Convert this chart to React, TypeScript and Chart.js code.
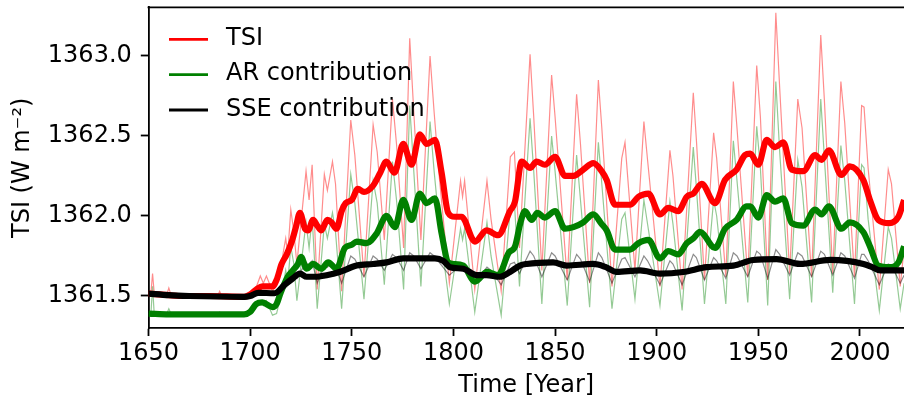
import React, { useEffect, useRef } from "react";
import { Chart, registerables } from "chart.js";

Chart.register(...registerables);

// ---------- DATA ----------
// Annual (thin) curves, sampled at cycle extrema / shoulders
const THIN_YEARS = [
  1650, 1651.2, 1652, 1652.8, 1659, 1660, 1661, 1684, 1685, 1686, 1699,
  1702, 1705, 1706.5, 1708, 1711, 1713, 1716, 1717.5, 1718.5, 1720, 1721.5, 1723,
  1727.5, 1729, 1730.5, 1733, 1736.5, 1738, 1740.5, 1742, 1745, 1749.5, 1751.5, 1756,
  1760.5, 1762.5, 1766, 1770, 1772, 1775.5, 1778.5, 1780.5, 1784, 1788.5, 1790.5, 1793,
  1798, 1803.5, 1804.5, 1805.5, 1810.5, 1816.5, 1818.5, 1823.5, 1828, 1830, 1832.5,
  1837.7, 1839.5, 1843.5, 1848.3, 1850, 1856, 1860.6, 1862.5, 1867, 1871.3, 1873, 1878,
  1882.8, 1884.4, 1889.3, 1893.7, 1895.5, 1901.6, 1906.5, 1908, 1912.5, 1918, 1919.5,
  1923.5, 1928, 1929.5, 1934, 1937.7, 1939.5, 1944.8, 1949.2, 1951, 1954.6, 1958.6,
  1960.5, 1965.4, 1969.4, 1971.5, 1976.2, 1980.7, 1982.5, 1986.6, 1990.6, 1992.5,
  1997.3, 2000.8, 2002, 2004, 2009.5, 2013.9, 2015.5, 2019.8, 2021.7,
];
const TSI_ANNUAL = [
  1361.52, 1361.52, 1361.64, 1361.52, 1361.51, 1361.55, 1361.51, 1361.5, 1361.53, 1361.5, 1361.495,
  1361.52, 1361.625, 1361.58, 1361.625, 1361.53, 1361.57, 1361.75, 1361.86, 1361.76, 1362.04, 1361.9, 1361.7,
  1362.28, 1362.1, 1362.32, 1361.54, 1362.26, 1362.16, 1362.34, 1362.2, 1361.53, 1362.6, 1362.38, 1361.62,
  1362.57, 1362.4, 1361.85, 1362.73, 1362.45, 1361.8, 1363.11, 1362.65, 1361.85, 1363.0, 1362.65, 1362.25,
  1361.58, 1362.22, 1362.12, 1362.22, 1361.54, 1362.22, 1361.98, 1361.53, 1362.37, 1362.4, 1361.8,
  1363.01, 1362.62, 1361.66, 1362.88, 1362.62, 1361.6, 1362.76, 1362.45, 1361.58, 1362.85, 1362.55, 1361.56,
  1362.36, 1362.46, 1361.66, 1362.59, 1362.35, 1361.56, 1362.41, 1362.25, 1361.54, 1362.77, 1362.48,
  1361.6, 1362.52, 1362.36, 1361.62, 1362.84, 1362.55, 1361.62, 1362.94, 1362.62, 1361.6, 1363.27,
  1362.8, 1361.64, 1362.73, 1362.55, 1361.62, 1363.13, 1362.72, 1361.64, 1362.84, 1362.58,
  1361.62, 1362.69, 1362.68, 1362.3, 1361.54, 1362.29, 1362.2, 1361.56, 1361.8,
];
const AR_ANNUAL = [
  1361.39, 1361.39, 1361.56, 1361.39, 1361.39, 1361.42, 1361.39, 1361.39, 1361.4, 1361.385, 1361.385,
  1361.41, 1361.47, 1361.44, 1361.47, 1361.38, 1361.39, 1361.55, 1361.66, 1361.58, 1361.81, 1361.7, 1361.47,
  1361.96, 1361.8, 1361.99, 1361.42, 1361.95, 1361.86, 1362.02, 1361.9, 1361.42, 1362.26, 1362.08, 1361.48,
  1362.22, 1362.08, 1361.57, 1362.34, 1362.1, 1361.54, 1362.69, 1362.28, 1361.56, 1362.59, 1362.28, 1361.95,
  1361.45, 1361.92, 1361.85, 1361.92, 1361.4, 1361.96, 1361.75, 1361.38, 1362.05, 1362.08, 1361.56,
  1362.61, 1362.28, 1361.45, 1362.5, 1362.28, 1361.44, 1362.38, 1362.1, 1361.43, 1362.46, 1362.2, 1361.42,
  1361.98, 1362.02, 1361.48, 1362.1, 1361.95, 1361.44, 1362.09, 1361.95, 1361.41, 1362.43, 1362.18,
  1361.45, 1362.1, 1362.0, 1361.45, 1362.47, 1362.22, 1361.46, 1362.56, 1362.3, 1361.44, 1362.84,
  1362.4, 1361.48, 1362.35, 1362.18, 1361.46, 1362.73, 1362.36, 1361.52, 1362.44, 1362.22,
  1361.45, 1362.32, 1362.3, 1361.98, 1361.41, 1361.93, 1361.86, 1361.42, 1361.58,
];
const SSE_ANNUAL = [
  1361.52, 1361.52, 1361.51, 1361.51, 1361.505, 1361.505, 1361.5, 1361.5, 1361.5, 1361.5, 1361.495,
  1361.51, 1361.53, 1361.52, 1361.53, 1361.51, 1361.53, 1361.57, 1361.59, 1361.58, 1361.63, 1361.62, 1361.61,
  1361.71, 1361.69, 1361.72, 1361.58, 1361.69, 1361.68, 1361.71, 1361.69, 1361.58, 1361.75, 1361.73, 1361.62,
  1361.75, 1361.73, 1361.66, 1361.76, 1361.74, 1361.66, 1361.77, 1361.75, 1361.67, 1361.77, 1361.75, 1361.71,
  1361.63, 1361.69, 1361.68, 1361.69, 1361.58, 1361.68, 1361.66, 1361.57, 1361.7, 1361.71, 1361.64,
  1361.78, 1361.75, 1361.62, 1361.77, 1361.75, 1361.6, 1361.76, 1361.73, 1361.59, 1361.77, 1361.74, 1361.58,
  1361.73, 1361.74, 1361.62, 1361.75, 1361.72, 1361.57, 1361.72, 1361.7, 1361.57, 1361.76, 1361.74,
  1361.6, 1361.74, 1361.72, 1361.61, 1361.77, 1361.75, 1361.62, 1361.78, 1361.76, 1361.61, 1361.79,
  1361.76, 1361.63, 1361.77, 1361.75, 1361.62, 1361.78, 1361.76, 1361.63, 1361.77, 1361.75,
  1361.61, 1361.76, 1361.76, 1361.72, 1361.57, 1361.7, 1361.69, 1361.58, 1361.63,
];

// Smoothed (thick) curves
const TSI_SMOOTH_YEARS = [
  1650, 1655, 1660, 1665, 1680, 1697, 1700, 1703, 1706, 1711, 1713, 1715.5, 1718, 1720.5, 1722.5,
  1724.5, 1727, 1728.5, 1731, 1733, 1735, 1738, 1740, 1742.5, 1745, 1747, 1750, 1753, 1756, 1760.5,
  1764, 1767, 1771, 1775.3, 1779.4, 1783.5, 1786.8, 1790.9, 1794.2, 1797.4, 1800.7, 1804, 1810.6,
  1816.3, 1822, 1827.8, 1830.3, 1833.6, 1837.7, 1840.9, 1845, 1850, 1854.9, 1859, 1863.9, 1868.8,
  1872.9, 1875.4, 1879.5, 1886.9, 1891, 1895.9, 1901.6, 1905.7, 1910.6, 1914.8, 1918, 1922.1,
  1928.7, 1933.6, 1939.3, 1943.4, 1946, 1950, 1954.1, 1958.2, 1962.3, 1966.4, 1972.1, 1977.9,
  1981.1, 1984.7, 1990.9, 1995, 2001.6, 2004.9, 2009, 2014.4, 2018.9, 2021.7,
];
const TSI_SMOOTH = [
  1361.515, 1361.51, 1361.505, 1361.5, 1361.5, 1361.495, 1361.51, 1361.54, 1361.56, 1361.56, 1361.6, 1361.7, 1361.76, 1361.84, 1361.93,
  1362.02, 1361.92, 1361.91, 1361.975, 1361.94, 1361.91, 1361.975, 1361.96, 1361.92, 1362.03, 1362.08, 1362.1, 1362.17, 1362.15, 1362.19,
  1362.27, 1362.34, 1362.27, 1362.45, 1362.32, 1362.51, 1362.45, 1362.475, 1362.27, 1362.02, 1361.995, 1361.995, 1361.84,
  1361.91, 1361.88, 1362.03, 1362.09, 1362.34, 1362.3, 1362.34, 1362.32, 1362.37, 1362.25, 1362.25, 1362.29, 1362.33,
  1362.28, 1362.225, 1362.07, 1362.07, 1362.12, 1362.14, 1362.01, 1362.05, 1362.03, 1362.12, 1362.14, 1362.2,
  1362.08, 1362.225, 1362.29, 1362.38, 1362.39, 1362.32, 1362.475, 1362.43, 1362.46, 1362.29, 1362.28, 1362.38,
  1362.35, 1362.41, 1362.256, 1362.31, 1362.225, 1362.1, 1361.975, 1361.955, 1361.995, 1362.1,
];

const AR_SMOOTH_YEARS = [
  1650, 1660, 1680, 1697, 1700, 1703, 1706, 1711, 1713, 1715, 1718.5, 1721, 1723.5, 1725, 1727.8,
  1731, 1735, 1738.4, 1742.5, 1746.6, 1750, 1752.4, 1757.3, 1762.2, 1767.1, 1771.2, 1775.3, 1779.4,
  1783.5, 1786.8, 1790.9, 1794.2, 1797.4, 1800, 1804.8, 1810.6, 1816.6, 1822, 1827.2, 1830.3, 1833,
  1835.2, 1838.5, 1841.3, 1845, 1850, 1854.9, 1859, 1863.9, 1868.8, 1872.9, 1875.4, 1879.5, 1886.9,
  1891, 1895.9, 1901.6, 1905.7, 1910.6, 1914.8, 1918, 1921.3, 1928.7, 1933.6, 1939.3, 1944.2, 1946,
  1950, 1954.1, 1958.2, 1962.3, 1966.4, 1972.1, 1977.9, 1981.1, 1984.7, 1990.9, 1995, 2001.6, 2004.9,
  2009, 2014.4, 2018.9, 2021.7,
];
const AR_SMOOTH = [
  1361.39, 1361.385, 1361.385, 1361.385, 1361.4, 1361.45, 1361.46, 1361.43, 1361.45, 1361.52, 1361.62, 1361.66, 1361.7, 1361.745, 1361.67,
  1361.7, 1361.67, 1361.71, 1361.67, 1361.8, 1361.82, 1361.84, 1361.83, 1361.89, 1362.0, 1361.93, 1362.1, 1361.975,
  1362.14, 1362.08, 1362.11, 1361.89, 1361.71, 1361.7, 1361.69, 1361.59, 1361.65, 1361.63, 1361.77, 1361.81, 1361.96,
  1362.03, 1361.975, 1362.02, 1361.99, 1362.03, 1361.92, 1361.93, 1361.96, 1362.01, 1361.95, 1361.91, 1361.79, 1361.79,
  1361.83, 1361.85, 1361.735, 1361.78, 1361.76, 1361.83, 1361.86, 1361.9, 1361.8, 1361.92, 1361.975, 1362.06, 1362.06,
  1361.99, 1362.13, 1362.09, 1362.11, 1361.955, 1361.94, 1362.04, 1362.01, 1362.06, 1361.92, 1361.96, 1361.9, 1361.81,
  1361.69, 1361.68, 1361.71, 1361.81,
];

const SSE_SMOOTH_YEARS = [
  1650, 1660, 1670, 1697, 1700, 1704, 1712, 1717, 1721, 1724.5, 1727.8, 1732, 1737.6, 1744, 1752.4,
  1760.5, 1767.1, 1775.3, 1783.5, 1790.9, 1795, 1798.3, 1804.9, 1811.4, 1816.3, 1822.8, 1827.8,
  1832.7, 1836, 1849, 1855.7, 1868.8, 1875, 1880.3, 1891.8, 1901.6, 1913, 1924.6, 1937.7, 1947.5,
  1959, 1970.5, 1985.3, 2001.7, 2006, 2010, 2021.7,
];
const SSE_SMOOTH = [
  1361.515, 1361.505, 1361.5, 1361.495, 1361.5, 1361.52, 1361.517, 1361.57, 1361.61, 1361.64, 1361.62, 1361.62, 1361.63, 1361.65, 1361.69,
  1361.7, 1361.71, 1361.735, 1361.735, 1361.735, 1361.72, 1361.68, 1361.67, 1361.63, 1361.63, 1361.62, 1361.65,
  1361.69, 1361.7, 1361.71, 1361.69, 1361.7, 1361.68, 1361.65, 1361.66, 1361.64, 1361.65, 1361.68, 1361.69, 1361.725,
  1361.73, 1361.7, 1361.725, 1361.7, 1361.68, 1361.66, 1361.66,
];

const X_TICKS = [1650, 1700, 1750, 1800, 1850, 1900, 1950, 2000];
const Y_TICKS = [1361.5, 1362.0, 1362.5, 1363.0];
const SERIES_LABELS = ["TSI", "AR contribution", "SSE contribution"];
const X_TITLE = "Time [Year]";
const Y_TITLE = "TSI (W m\u207B\u00B2)";

const FONT = "DejaVu Sans";
const FONT_SIZE = 24;
const W = 904;
const H = 405;
const PLOT_LEFT = 148.5;
const PLOT_TOP = 7.3;
const PLOT_BOTTOM = 328.3;

const pts = (xs: number[], ys: number[]) => xs.map((x, i) => ({ x, y: ys[i] }));

const frameAndLegend = {
  id: "frameAndLegend",
  afterDatasetsDraw(chart: any) {
    const { ctx, chartArea } = chart;
    ctx.save();
    // top spine
    ctx.strokeStyle = "#000";
    ctx.lineWidth = 1.8;
    ctx.beginPath();
    ctx.moveTo(chartArea.left - 0.9, chartArea.top);
    ctx.lineTo(chartArea.right + 2, chartArea.top);
    ctx.stroke();
    // legend
    const colors = ["#ff0000", "#008000", "#000000"];
    const ys = [39.3, 74.6, 110];
    ctx.font = `${FONT_SIZE}px "${FONT}"`;
    ctx.textBaseline = "middle";
    ctx.textAlign = "left";
    SERIES_LABELS.forEach((label, i) => {
      ctx.strokeStyle = colors[i];
      ctx.lineWidth = 2.8;
      ctx.beginPath();
      ctx.moveTo(169, ys[i]);
      ctx.lineTo(208, ys[i]);
      ctx.stroke();
      ctx.fillStyle = "#000";
      ctx.fillText(label, 226, ys[i] - 0.5);
    });
    ctx.restore();
  },
};

export default function App() {
  const ref = useRef<HTMLCanvasElement | null>(null);

  useEffect(() => {
    if (!ref.current) return;
    Chart.defaults.font.family = FONT;
    const thin = (data: any, color: string, order: number) => ({
      data,
      borderColor: color,
      borderWidth: 1.2,
      pointRadius: 0,
      tension: 0,
      order,
    });
    const thick = (data: any, color: string, order: number, label: string) => ({
      label,
      data,
      borderColor: color,
      borderWidth: 6.2,
      pointRadius: 0,
      cubicInterpolationMode: "monotone" as const,
      borderJoinStyle: "round" as const,
      order,
    });
    const chart = new Chart(ref.current, {
      type: "line",
      data: {
        datasets: [
          thick(pts(SSE_SMOOTH_YEARS, SSE_SMOOTH), "#000000", 0, SERIES_LABELS[2]),
          thick(pts(AR_SMOOTH_YEARS, AR_SMOOTH), "#008000", 1, SERIES_LABELS[1]),
          thick(pts(TSI_SMOOTH_YEARS, TSI_SMOOTH), "#ff0000", 2, SERIES_LABELS[0]),
          thin(pts(THIN_YEARS, SSE_ANNUAL), "rgba(0,0,0,0.45)", 3),
          thin(pts(THIN_YEARS, AR_ANNUAL), "rgba(0,128,0,0.42)", 4),
          thin(pts(THIN_YEARS, TSI_ANNUAL), "rgba(255,0,0,0.45)", 5),
        ] as any,
      },
      options: {
        animation: false,
        responsive: false,
        maintainAspectRatio: false,
        layout: { padding: { top: PLOT_TOP, right: 0, bottom: 0, left: 0 } },
        plugins: { legend: { display: false }, tooltip: { enabled: false } },
        scales: {
          x: {
            type: "linear",
            min: 1650,
            max: 2021.65,
            afterBuildTicks: (s: any) => {
              s.ticks = X_TICKS.map((v) => ({ value: v }));
            },
            afterFit: (s: any) => {
              s.height = H - PLOT_BOTTOM;
              s.paddingLeft = 0;
              s.paddingRight = 0;
            },
            grid: {
              drawOnChartArea: false,
              drawTicks: true,
              tickLength: 7.7,
              tickWidth: 1.8,
              tickColor: "#000",
            },
            border: { display: true, color: "#000", width: 1.8 },
            ticks: {
              color: "#000",
              font: { family: FONT, size: FONT_SIZE },
              padding: 3,
              maxRotation: 0,
              autoSkip: false,
              callback: (v: any) => String(v),
            },
            title: {
              display: true,
              text: X_TITLE,
              color: "#000",
              font: { family: FONT, size: FONT_SIZE },
              padding: { top: 0, bottom: 5 },
            },
          },
          y: {
            type: "linear",
            min: 1361.298,
            max: 1363.304,
            afterBuildTicks: (s: any) => {
              s.ticks = Y_TICKS.map((v) => ({ value: v }));
            },
            afterFit: (s: any) => {
              s.width = PLOT_LEFT;
              s.paddingTop = 0;
              s.paddingBottom = 0;
            },
            grid: {
              drawOnChartArea: false,
              drawTicks: true,
              tickLength: 7.7,
              tickWidth: 1.8,
              tickColor: "#000",
            },
            border: { display: true, color: "#000", width: 1.8 },
            ticks: {
              color: "#000",
              font: { family: FONT, size: FONT_SIZE },
              padding: 9,
              autoSkip: false,
              callback: (v: any) => Number(v).toFixed(1),
            },
            title: {
              display: true,
              text: Y_TITLE,
              color: "#000",
              font: { family: FONT, size: FONT_SIZE },
              padding: { top: 8.5, bottom: 0 },
            },
          },
        },
      },
      plugins: [frameAndLegend],
    });
    return () => chart.destroy();
  }, []);

  return (
    <div
      style={{
        position: "fixed",
        left: 0,
        top: 0,
        width: W,
        height: H,
        background: "#fff",
        overflow: "hidden",
      }}
    >
      <canvas ref={ref} width={W} height={H} style={{ display: "block", width: W, height: H }} />
    </div>
  );
}
